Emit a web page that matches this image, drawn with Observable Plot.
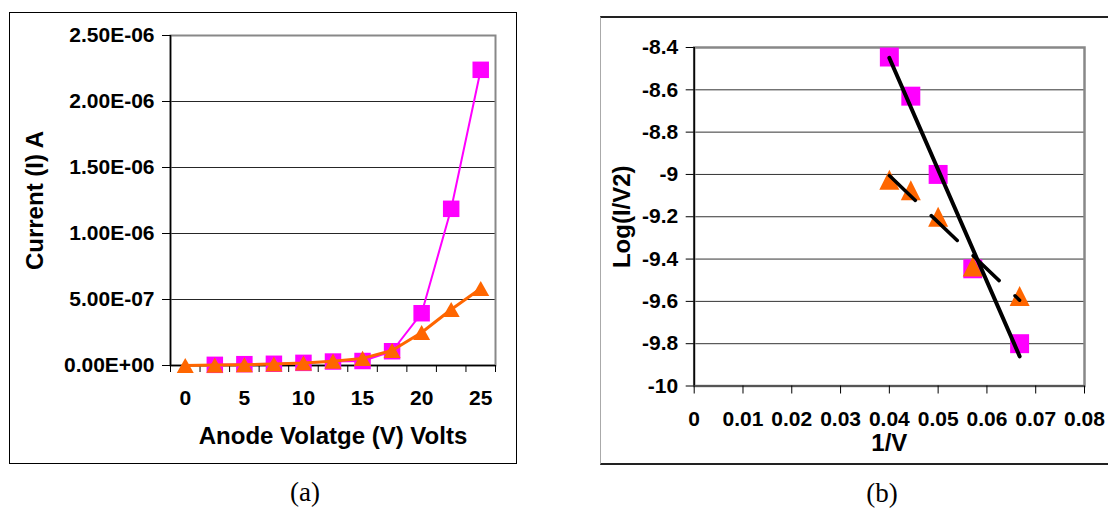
<!DOCTYPE html>
<html>
<head>
<meta charset="utf-8">
<script src="https://cdn.jsdelivr.net/npm/d3@7"></script>
<script src="https://cdn.jsdelivr.net/npm/@observablehq/plot@0.6"></script>
<style>
  html, body { margin: 0; padding: 0; background: #fff; }
  #page { position: relative; width: 1108px; height: 508px; overflow: hidden; background: #fff; }
  .frame { position: absolute; box-sizing: border-box; }
  #frameA { left: 9px; top: 12px; width: 508px; height: 452px; border: 1.5px solid #000; }
  #frameB { left: 600px; top: 16px; width: 510px; height: 449px; border-top: 2px solid #222; border-bottom: 2px solid #222; border-left: 1px solid #aaa; }
  .panel { position: absolute; top: 0; }
  .cap { position: absolute; font-family: "Liberation Serif", "Times New Roman", serif; font-size: 27px; line-height: 27px; transform: translate(-50%, -50%); white-space: nowrap; }
</style>
</head>
<body>
<div id="page">
  <div class="frame" id="frameA"></div>
  <div class="frame" id="frameB"></div>
  <div class="panel" id="panelA" style="left:0px"></div>
  <div class="panel" id="panelB" style="left:560px"></div>
  <div class="cap" style="left:305px; top:492px">(a)</div>
  <div class="cap" style="left:882px; top:493px">(b)</div>
</div>
<script>
// ---------- Data: panel (a) ----------
const voltages = [0, 2.5, 5, 7.5, 10, 12.5, 15, 17.5, 20, 22.5, 25];
const currentMagenta = [null, 5e-9, 1.0e-8, 1.3e-8, 2.0e-8, 3.0e-8, 3.4e-8, 1.08e-7, 3.96e-7, 1.187e-6, 2.24e-6];
const currentOrange = [0, 3e-9, 6e-9, 1.2e-8, 1.9e-8, 3.3e-8, 5.4e-8, 1.14e-7, 2.5e-7, 4.24e-7, 5.83e-7];
const xLabelTicksA = [0, 5, 10, 15, 20, 25];
const yTicksA = [0, 5e-7, 1e-6, 1.5e-6, 2e-6, 2.5e-6];

// ---------- Data: panel (b) ----------
const invV = [0.04, 0.0444, 0.05, 0.0571, 0.0667];
const logMagenta = [-8.445, -8.63, -9.0, -9.446, -9.80];
const logOrange = [-9.025, -9.075, -9.20, -9.435, -9.575];
const xTicksB = [0, 0.01, 0.02, 0.03, 0.04, 0.05, 0.06, 0.07, 0.08];
const yTicksB = [-8.4, -8.6, -8.8, -9, -9.2, -9.4, -9.6, -9.8, -10];

const MAGENTA = "#ff00ff", ORANGE = "#ff6600";
const FONT = "'Liberation Sans', Arial, sans-serif";

// symbols
const squareSym = {draw(ctx, size) { const s = Math.sqrt(size) / 2; ctx.rect(-s, -s, 2 * s, 2 * s); }};
function triSym(wRatio) {
  return {draw(ctx, size) {
    const h = Math.sqrt(size), w = h * wRatio;
    ctx.moveTo(0, -h / 2); ctx.lineTo(w / 2, h / 2); ctx.lineTo(-w / 2, h / 2); ctx.closePath();
  }};
}

function fmtE(d) {
  if (d === 0) return "0.00E+00";
  const [m, e] = d.toExponential(2).split("e");
  const n = +e;
  return m + "E" + (n < 0 ? "-" : "+") + String(Math.abs(n)).padStart(2, "0");
}

// ---------- Panel (a) ----------
const dataA = voltages.map((v, i) => ({v, mag: currentMagenta[i], ora: currentOrange[i]}));
const magA = dataA.filter(d => d.mag != null);
const halfStep = (voltages[1] - voltages[0]) / 2;
const boundaries = voltages.map(v => v - halfStep).concat([voltages[voltages.length - 1] + halfStep]);

const plotA = Plot.plot({
  width: 540, height: 508,
  marginLeft: 170, marginRight: 45, marginTop: 35, marginBottom: 143,
  style: {fontFamily: FONT, fontWeight: "bold", fontSize: "21px", background: "transparent", color: "#000", overflow: "visible"},
  x: {domain: [boundaries[0], boundaries[boundaries.length - 1]], label: null},
  y: {domain: [0, 2.5e-6], label: null},
  marks: [
    Plot.gridY(yTicksA.slice(1, -1), {stroke: "#000", strokeOpacity: 0.85, strokeWidth: 1}),
    Plot.frame({stroke: "#888", strokeWidth: 2}),
    Plot.ruleX([boundaries[0]], {stroke: "#000", strokeWidth: 1.5}),
    Plot.ruleY([0], {stroke: "#000", strokeWidth: 1.5}),
    Plot.axisY({ticks: yTicksA, tickFormat: fmtE, tickSize: 8, tickPadding: 8, label: null, fontSize: 21, fontWeight: "bold"}),
    Plot.axisX({ticks: boundaries, tickFormat: () => "", tickSize: 7, label: null}),
    Plot.axisX({ticks: xLabelTicksA, tickFormat: d => String(d), tickSize: 0, tickPadding: 25, label: null, fontSize: 21, fontWeight: "bold"}),
    Plot.line(magA, {x: "v", y: "mag", stroke: MAGENTA, strokeWidth: 2}),
    Plot.dot(magA, {x: "v", y: "mag", symbol: squareSym, r: 9.3, fill: MAGENTA}),
    Plot.line(dataA, {x: "v", y: "ora", stroke: ORANGE, strokeWidth: 3}),
    Plot.dot(dataA, {x: "v", y: "ora", symbol: triSym(1.13), r: 8.5, fill: ORANGE}),
    Plot.text(["Current (I) A"], {text: d => d, frameAnchor: "left", dx: -135, rotate: -90, textAnchor: "middle", lineAnchor: "middle", fontSize: 24, fontWeight: "bold"}),
    Plot.text(["Anode Volatge (V) Volts"], {text: d => d, frameAnchor: "bottom", dy: 71, textAnchor: "middle", lineAnchor: "middle", fontSize: 24, fontWeight: "bold"})
  ]
});
document.getElementById("panelA").appendChild(plotA);

// ---------- Panel (b) ----------
const dataB = invV.map((x, i) => ({x, mag: logMagenta[i], ora: logOrange[i]}));

const plotB = Plot.plot({
  width: 548, height: 508,
  marginLeft: 133.7, marginRight: 24, marginTop: 47, marginBottom: 122.5,
  style: {fontFamily: FONT, fontWeight: "bold", fontSize: "21px", background: "transparent", color: "#000", overflow: "visible"},
  x: {domain: [0, 0.08], label: null},
  y: {domain: [-10, -8.4], label: null},
  marks: [
    Plot.gridY(yTicksB.slice(1, -1), {stroke: "#000", strokeOpacity: 0.8, strokeWidth: 1}),
    Plot.frame({stroke: "#888", strokeWidth: 2.5}),
    Plot.ruleX([0], {stroke: "#000", strokeWidth: 1.5}),
    Plot.ruleY([-10], {stroke: "#444", strokeWidth: 1.5}),
    Plot.axisY({ticks: yTicksB, tickFormat: d => String(+d.toFixed(1)), tickSize: 8, tickPadding: 8, label: null, fontSize: 21, fontWeight: "bold"}),
    Plot.axisX({ticks: xTicksB, tickFormat: d => String(+d.toFixed(2)), tickSize: 8, tickPadding: 17, label: null, fontSize: 21, fontWeight: "bold"}),
    Plot.dot(dataB, {x: "x", y: "mag", symbol: squareSym, r: 10.7, fill: MAGENTA}),
    Plot.dot(dataB, {x: "x", y: "ora", symbol: triSym(1.0), r: 11.3, fill: ORANGE}),
    Plot.linearRegressionY(dataB, {x: "x", y: "mag", stroke: "#000", strokeWidth: 4, ci: 0, strokeLinecap: "round"}),
    Plot.linearRegressionY(dataB, {x: "x", y: "ora", stroke: "#000", strokeWidth: 3.5, ci: 0, strokeDasharray: "36,22"}),
    Plot.text(["Log(I/V2)"], {text: d => d, frameAnchor: "left", dx: -72, rotate: -90, textAnchor: "middle", lineAnchor: "middle", fontSize: 24, fontWeight: "bold"}),
    Plot.text(["1/V"], {text: d => d, frameAnchor: "bottom", dy: 57, textAnchor: "middle", lineAnchor: "middle", fontSize: 24, fontWeight: "bold"})
  ]
});
document.getElementById("panelB").appendChild(plotB);
</script>
</body>
</html>
